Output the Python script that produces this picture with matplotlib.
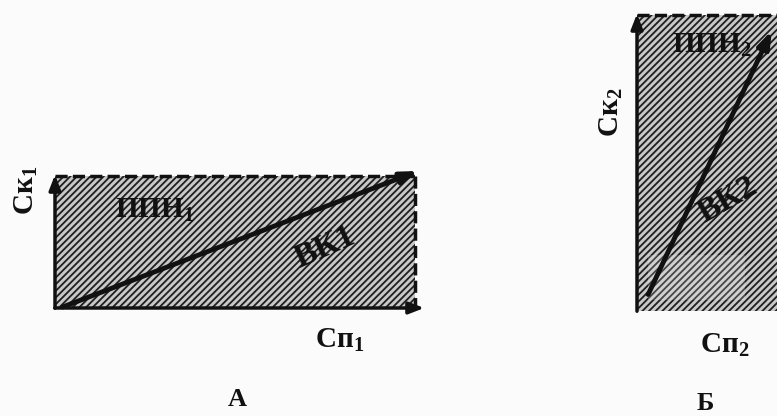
import matplotlib.pyplot as plt
from matplotlib.patches import Rectangle

plt.rcParams['font.family'] = ['Liberation Serif', 'DejaVu Serif']
plt.rcParams['mathtext.fontset'] = 'custom'
plt.rcParams['mathtext.rm'] = 'Liberation Serif:bold'
plt.rcParams['mathtext.default'] = 'rm'
plt.rcParams['hatch.linewidth'] = 1.3

# panel geometry in picture pixels: left, top, right, bottom
rect_a = [55, 176, 415, 308]
rect_b = [637, 15, 790, 311]
# diagonal vector "ВК" start and end points
vec_a = [(60, 308), (421, 170)]
vec_b = [(647, 297), (773, 28)]
# lighter (faded) spot of the scan in panel Б
fade_b = [648, 255, 745, 300]

fig = plt.figure(figsize=(7.77, 4.16), dpi=100)
ax = fig.add_axes([0, 0, 1, 1])
ax.set_xlim(0, 777)
ax.set_ylim(416, 0)
ax.axis('off')
fig.patch.set_facecolor('#fbfbfb')


def panel(r, vec, dashed_right):
    l, t, rr, b = r
    ax.add_patch(Rectangle((l, t), rr - l, b - t, facecolor='#c8c8c8',
                           edgecolor='#1e1e1e', lw=0, hatch='/////', zorder=1))
    # dashed top edge (and right edge for A)
    ax.plot([l, rr], [t, t], color='#111', lw=2.5, ls=(0, (3.5, 1.5)), zorder=2)
    if dashed_right:
        ax.plot([rr, rr], [t, b], color='#111', lw=2.5, ls=(0, (3.5, 1.5)), zorder=2)
    # axes with arrows
    ax.annotate('', xy=(l, t - 4), xytext=(l, b + 3),
                arrowprops=dict(arrowstyle='-|>,head_length=0.9,head_width=0.35',
                                color='#111', lw=2.5), zorder=3)
    ax.annotate('', xy=(rr + 12, b), xytext=(l - 3, b),
                arrowprops=dict(arrowstyle='-|>,head_length=0.9,head_width=0.35',
                                color='#111', lw=2.5), zorder=3)
    ax.annotate('', xy=vec[1], xytext=vec[0],
                arrowprops=dict(arrowstyle='-|>,head_length=1.0,head_width=0.35',
                                color='#111', lw=3.5), zorder=3)


panel(rect_a, vec_a, True)
panel(rect_b, vec_b, False)
l, t, r, b = fade_b
ax.add_patch(Rectangle((l, t), r - l, b - t, facecolor='#ffffff', alpha=0.18,
                       edgecolor='none', zorder=1.5))

tk = dict(color='#111', fontweight='bold', zorder=4)
ax.text(26, 190, 'Ск$_1$', fontsize=21, rotation=90, ha='center', va='center', **tk)
ax.text(155, 210, 'ППН$_1$', fontsize=21, ha='center', va='center', **tk)
ax.text(325, 247, 'ВК1', fontsize=24, rotation=24, ha='center', va='center', **tk)
ax.text(340, 340, 'Сп$_1$', fontsize=21, ha='center', va='center', **tk)
ax.text(237, 400, 'А', fontsize=19, ha='center', va='center', **tk)

ax.text(611, 112, 'Ск$_2$', fontsize=21, rotation=90, ha='center', va='center', **tk)
ax.text(712, 45, 'ППН$_2$', fontsize=21, ha='center', va='center', **tk)
ax.text(692, 200, 'ВК2', fontsize=24, rotation=30, ha='left', va='center', **tk)
ax.text(725, 345, 'Сп$_2$', fontsize=21, ha='center', va='center', **tk)
ax.text(705, 404, 'Б', fontsize=19, ha='center', va='center', **tk)

fig.savefig('out.png', dpi=100, facecolor=fig.get_facecolor())
